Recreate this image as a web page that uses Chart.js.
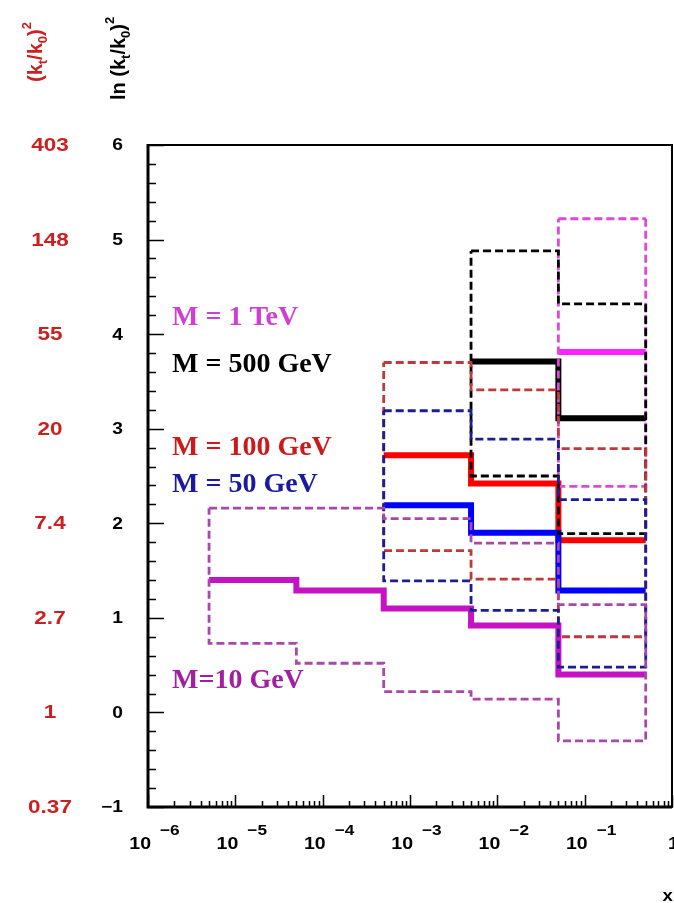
<!DOCTYPE html>
<html lang="en">
<head>
  <meta charset="UTF-8">
  <title>ln (kt/k0)^2 vs x</title>
  <script src="https://cdn.jsdelivr.net/npm/chart.js"></script>
  <style>
    body { margin: 0; background: #fff; }
    canvas { display: block; }
  </style>
</head>
<body>
  <canvas id="myChart" width="674" height="903"></canvas>

  <script>
    // bin edges in x, five bins
    const binEdges = [5e-6, 5e-5, 5e-4, 5e-3, 5e-2, 0.5];

    // central values (thick lines) and band edges (dashed), ln (kt/k0)^2
    const m10Central  = [1.40, 1.29, 1.10, 0.92, 0.40];
    const m10Upper    = [2.16, 2.16, 2.05, 1.79, 1.14];
    const m10Lower    = [0.73, 0.52, 0.22, 0.14, -0.30];

    const m50Central  = [null, null, 2.19, 1.90, 1.29];
    const m50Upper    = [null, null, 3.19, 2.89, 2.25];
    const m50Lower    = [null, null, 1.39, 1.08, 0.48];

    const m100Central = [null, null, 2.72, 2.42, 1.82];
    const m100Upper   = [null, null, 3.70, 3.41, 2.79];
    const m100Lower   = [null, null, 1.71, 1.41, 0.80];

    const m500Central = [null, null, null, 3.71, 3.11];
    const m500Upper   = [null, null, null, 4.88, 4.32];
    const m500Lower   = [null, null, null, 2.50, 1.89];

    const m1000Central = [null, null, null, null, 3.81];
    const m1000Upper   = [null, null, null, null, 5.22];
    const m1000Lower   = [null, null, null, null, 2.39];

    const massLabels = ['M=10 GeV', 'M = 50 GeV', 'M = 100 GeV', 'M = 500 GeV', 'M = 1 TeV'];

    // tick labels
    const yTickValues  = [-1, 0, 1, 2, 3, 4, 5, 6];
    const yTickLabels  = ['\u22121', '0', '1', '2', '3', '4', '5', '6'];
    const ktTickLabels = ['0.37', '1', '2.7', '7.4', '20', '55', '148', '403'];
    const xTickExponents = [-6, -5, -4, -3, -2, -1];

    // colours per mass: [solid, dashed, text]
    const colors = [
      ['#c412c4', '#a848a8', '#a020a0'],
      ['#0000ff', '#1c1c96', '#1a1aa0'],
      ['#ff0000', '#c03838', '#cc1a1a'],
      ['#000000', '#000000', '#000000'],
      ['#ff22ff', '#dc48dc', '#d040d0']
    ];
    // label positions (left, baseline) in pixels
    const labelPos = [[172, 688], [172, 492], [172, 455], [172, 372], [172, 325]];

    function histPoints(vals) {
      const pts = [];
      let last = -1;
      vals.forEach((v, i) => {
        if (v === null) return;
        pts.push({ x: binEdges[i], y: v });
        last = i;
      });
      pts.push({ x: binEdges[last + 1], y: vals[last] });
      return pts;
    }

    // closed box: upper steps left->right, lower steps right->left
    function bandPoints(up, lo) {
      const idx = [];
      up.forEach((v, i) => { if (v !== null) idx.push(i); });
      const first = idx[0], last = idx[idx.length - 1];
      const pts = [];
      idx.forEach(i => pts.push({ x: binEdges[i], y: up[i] }));
      pts.push({ x: binEdges[last + 1], y: up[last] });
      pts.push({ x: binEdges[last + 1], y: lo[last] });
      for (let i = last; i > first; i--) pts.push({ x: binEdges[i], y: lo[i - 1] });
      pts.push({ x: binEdges[first], y: lo[first] });
      pts.push({ x: binEdges[first], y: up[first] });
      return pts;
    }

    const series = [
      [m10Central, m10Upper, m10Lower],
      [m50Central, m50Upper, m50Lower],
      [m100Central, m100Upper, m100Lower],
      [m500Central, m500Upper, m500Lower],
      [m1000Central, m1000Upper, m1000Lower]
    ];

    const datasets = [];
    series.forEach((s, k) => {
      datasets.push({
        label: massLabels[k] + ' band',
        data: bandPoints(s[1], s[2]),
        borderColor: colors[k][1],
        borderWidth: 2.8,
        borderDash: [8, 4],
        stepped: 'before',
        fill: false,
        pointRadius: 0
      });
    });
    series.forEach((s, k) => {
      datasets.push({
        label: massLabels[k],
        data: histPoints(s[0]),
        borderColor: colors[k][0],
        borderWidth: 6,
        stepped: 'before',
        fill: false,
        pointRadius: 0
      });
    });

    function stretchText(ctx, text, x, y, sx, align) {
      ctx.save();
      ctx.translate(x, y);
      ctx.scale(sx, 1);
      ctx.textAlign = align;
      ctx.fillText(text, 0, 0);
      ctx.restore();
    }

    // rotated text with sub/superscripts, reading bottom to top
    function richVertical(ctx, segs, x, y, color) {
      ctx.save();
      ctx.translate(x, y);
      ctx.rotate(-Math.PI / 2);
      ctx.fillStyle = color;
      ctx.textAlign = 'left';
      ctx.textBaseline = 'alphabetic';
      let cx = 0;
      segs.forEach(s => {
        ctx.font = 'bold ' + s[1] + 'px "Liberation Sans", Arial, sans-serif';
        ctx.fillText(s[0], cx, s[2]);
        cx += ctx.measureText(s[0]).width;
      });
      ctx.restore();
    }

    const framePlugin = {
      id: 'frame',
      afterDraw(chart) {
        const ctx = chart.ctx;
        const a = chart.chartArea;
        const xs = chart.scales.x, ys = chart.scales.y;
        ctx.save();
        ctx.strokeStyle = '#000';

        // frame
        ctx.lineWidth = 2;
        ctx.strokeRect(a.left, a.top, a.right - a.left, a.bottom - a.top);
        ctx.lineWidth = 3;
        ctx.beginPath();
        ctx.moveTo(a.left, a.top - 1);
        ctx.lineTo(a.left, a.bottom);
        ctx.lineTo(a.right, a.bottom);
        ctx.stroke();

        // y ticks, inward
        ctx.lineWidth = 1.5;
        ctx.beginPath();
        for (let i = 0; i <= 35; i++) {
          const v = -1 + i * 0.2;
          const py = Math.round(ys.getPixelForValue(v)) + 0.5;
          const len = (i % 5 === 0) ? 16 : 8;
          ctx.moveTo(a.left, py);
          ctx.lineTo(a.left + len, py);
        }
        // x ticks, inward
        for (let e = -6; e <= 0; e++) {
          for (let m = 1; m <= 9; m++) {
            const v = m * Math.pow(10, e);
            if (v > 1) break;
            const px = Math.round(xs.getPixelForValue(v)) + 0.5;
            const len = (m === 1) ? 12 : 6;
            ctx.moveTo(px, a.bottom);
            ctx.lineTo(px, a.bottom - len);
          }
        }
        ctx.stroke();

        // y tick labels, black and red
        ctx.textBaseline = 'middle';
        yTickValues.forEach((v, i) => {
          const py = ys.getPixelForValue(v);
          ctx.fillStyle = '#000';
          ctx.font = 'bold 16px "Liberation Sans", Arial, sans-serif';
          stretchText(ctx, yTickLabels[i], 123, py + 1, 1.2, 'right');
          ctx.fillStyle = '#cc2020';
          ctx.font = 'bold 18px "Liberation Sans", Arial, sans-serif';
          stretchText(ctx, ktTickLabels[i], 50, py + 1, 1.25, 'center');
        });

        // x tick labels 10^n
        ctx.fillStyle = '#000';
        ctx.textBaseline = 'alphabetic';
        xTickExponents.forEach(e => {
          const px = xs.getPixelForValue(Math.pow(10, e));
          ctx.font = 'bold 17px "Liberation Sans", Arial, sans-serif';
          stretchText(ctx, '10', px + 3, 849, 1.15, 'right');
          ctx.font = 'bold 15px "Liberation Sans", Arial, sans-serif';
          stretchText(ctx, '\u2212' + Math.abs(e), px + 12, 835, 1.15, 'left');
        });
        ctx.font = 'bold 17px "Liberation Sans", Arial, sans-serif';
        stretchText(ctx, '1', xs.getPixelForValue(1) - 4, 849, 1.15, 'left');

        // axis titles
        ctx.font = 'bold 17px "Liberation Sans", Arial, sans-serif';
        stretchText(ctx, 'x', 673, 901, 1.1, 'right');
        richVertical(ctx, [['(', 20, 0], ['k', 20, 0], ['t', 13, 5], ['/k', 20, 0], ['0', 13, 5], [')', 20, 0], ['2', 13, -11]], 42, 82, '#cc2020');
        richVertical(ctx, [['ln (', 20, 0], ['k', 20, 0], ['t', 13, 5], ['/k', 20, 0], ['0', 13, 5], [')', 20, 0], ['2', 13, -11]], 125, 100, '#000');

        // mass labels
        ctx.font = 'bold 28px "Liberation Serif", "Times New Roman", serif';
        ctx.textAlign = 'left';
        massLabels.forEach((t, k) => {
          ctx.fillStyle = colors[k][2];
          ctx.fillText(t, labelPos[k][0], labelPos[k][1]);
        });
        ctx.restore();
      }
    };

    new Chart(document.getElementById('myChart'), {
      type: 'line',
      data: { datasets: datasets },
      options: {
        responsive: false,
        animation: false,
        layout: { padding: { left: 148, right: 2, top: 145, bottom: 96 } },
        plugins: { legend: { display: false }, tooltip: { enabled: false } },
        elements: { line: { tension: 0, borderCapStyle: 'butt', borderJoinStyle: 'miter' } },
        scales: {
          x: { type: 'logarithmic', min: 1e-6, max: 1, display: false },
          y: { type: 'linear', min: -1, max: 6, display: false }
        }
      },
      plugins: [framePlugin]
    });
  </script>
</body>
</html>
